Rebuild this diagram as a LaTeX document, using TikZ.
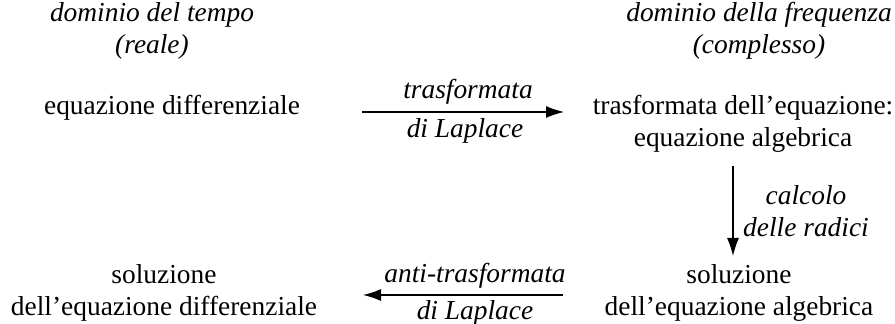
\documentclass[tikz,border=0pt]{standalone}
\usepackage{fontspec}
\setmainfont{Liberation Serif}
\usetikzlibrary{arrows.meta}
\begin{document}
\begin{tikzpicture}[x=0.5pt,y=-0.5pt,
  txt/.style={font=\fontsize{13.7}{16}\selectfont, align=center, inner sep=0pt},
  lab/.style={font=\fontsize{13.7}{16}\selectfont\itshape, align=center, inner sep=0pt},
  arr/.style={-{Latex[length=9pt,width=6pt]}, line width=0.6pt}]
\useasboundingbox (0,0) rectangle (895,324);
\node[lab] (dt) at (152,31) {dominio del tempo\\(reale)};
\node[lab] (df) at (759,31) {dominio della frequenza\\(complesso)};
\node[txt] (te) at (743,124) {trasformata dell’equazione:\\equazione algebrica};
\node[txt] (ed) at (172,108) {equazione differenziale};
\node[txt] (sa) at (739,293) {soluzione\\dell’equazione algebrica};
\node[txt] (sd) at (164,293) {soluzione\\dell’equazione differenziale};
\coordinate (a1s) at (362,112);
\coordinate (a1e) at (564,112);
\coordinate (a2s) at (733,166);
\coordinate (a2e) at (733,256);
\coordinate (a3s) at (563,295);
\coordinate (a3e) at (363,295);
\draw[arr] (a1s) -- (a1e);
\node[lab] (l1a) at (468,92) {trasformata};
\node[lab] (l1b) at (465,131) {di Laplace};
\draw[arr] (a2s) -- (a2e);
\node[lab] (l2) at (806,211) {calcolo\\delle radici};
\draw[arr] (a3s) -- (a3e);
\node[lab] (l3a) at (475,276) {anti-trasformata};
\node[lab] (l3b) at (475,313) {di Laplace};
\end{tikzpicture}
\end{document}
